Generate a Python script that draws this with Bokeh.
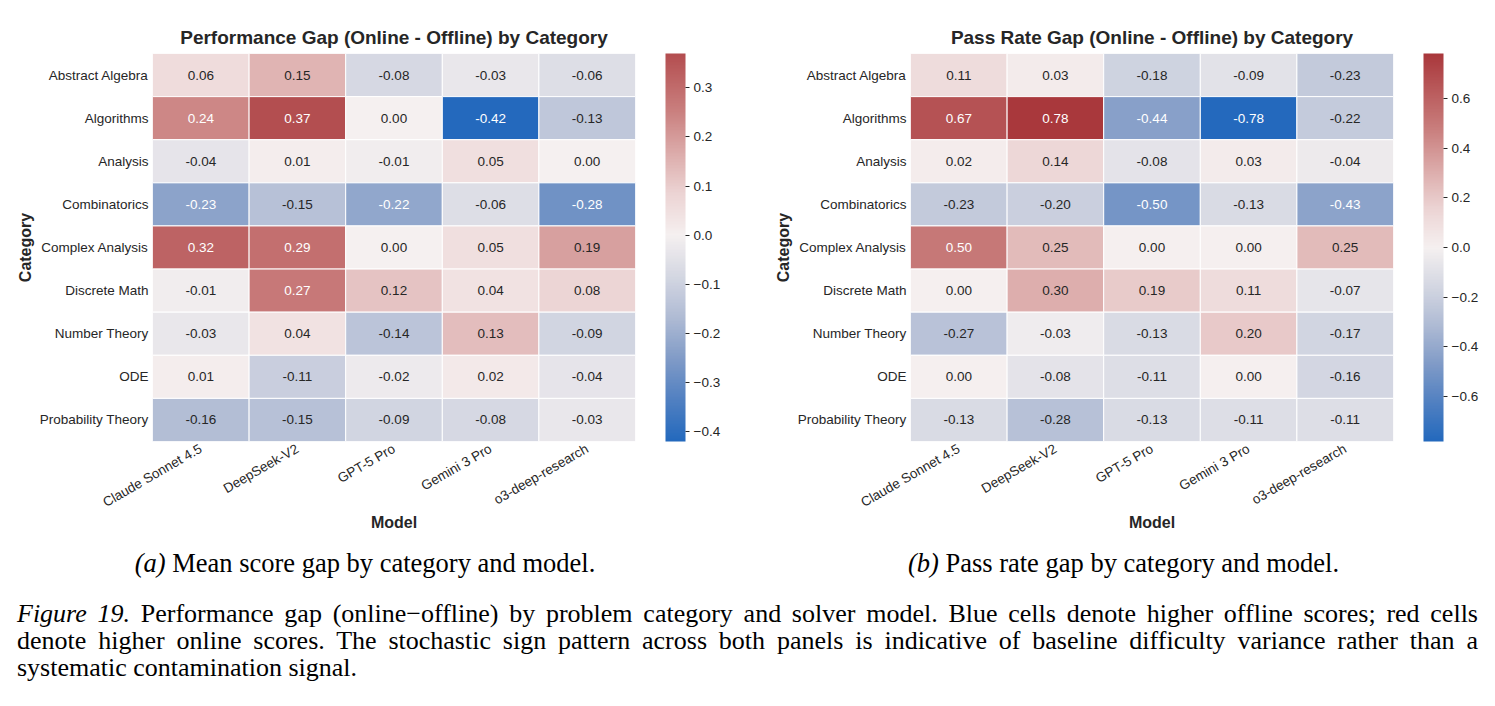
import math
from bokeh.plotting import figure
from bokeh.models import (ColumnDataSource, LinearColorMapper, ColorBar, FixedTicker,
                          CustomJSTickFormatter, Div)
from bokeh.layouts import column, row
from bokeh.embed import file_html
from bokeh.resources import INLINE
from bokeh.core.properties import value

# ---------------- data ----------------
categories = ["Abstract Algebra", "Algorithms", "Analysis", "Combinatorics", "Complex Analysis",
              "Discrete Math", "Number Theory", "ODE", "Probability Theory"]
models = ["Claude Sonnet 4.5", "DeepSeek-V2", "GPT-5 Pro", "Gemini 3 Pro", "o3-deep-research"]

# (a) mean score gap, one list per model, in category order
mean_claude = [0.06, 0.24, -0.04, -0.23, 0.32, -0.01, -0.03, 0.01, -0.16]
mean_deepseek = [0.15, 0.37, 0.01, -0.15, 0.29, 0.27, 0.04, -0.11, -0.15]
mean_gpt5 = [-0.08, 0.00, -0.01, -0.22, 0.00, 0.12, -0.14, -0.02, -0.09]
mean_gemini = [-0.03, -0.42, 0.05, -0.06, 0.05, 0.04, 0.13, 0.02, -0.08]
mean_o3 = [-0.06, -0.13, 0.00, -0.28, 0.19, 0.08, -0.09, -0.04, -0.03]

# (b) pass rate gap, one list per model, in category order
pass_claude = [0.11, 0.67, 0.02, -0.23, 0.50, 0.00, -0.27, 0.00, -0.13]
pass_deepseek = [0.03, 0.78, 0.14, -0.20, 0.25, 0.30, -0.03, -0.08, -0.28]
pass_gpt5 = [-0.18, -0.44, -0.08, -0.50, 0.00, 0.19, -0.13, -0.11, -0.13]
pass_gemini = [-0.09, -0.78, 0.03, -0.13, 0.00, 0.11, 0.20, 0.00, -0.11]
pass_o3 = [-0.23, -0.22, -0.04, -0.43, 0.25, -0.07, -0.17, -0.16, -0.11]

mean_ticks = [-0.4, -0.3, -0.2, -0.1, 0.0, 0.1, 0.2, 0.3]
pass_ticks = [-0.6, -0.4, -0.2, 0.0, 0.2, 0.4, 0.6]

title_a = "Performance Gap (Online - Offline) by Category"
title_b = "Pass Rate Gap (Online - Offline) by Category"

# ---------------- style ----------------
SANS = "Liberation Sans"
DARK = "#262626"

# approximation of seaborn's "vlag" diverging colormap
VLAG_STOPS = [
    (0.0, (35, 105, 189)), (0.1, (80, 128, 193)), (0.2, (128, 155, 199)),
    (0.3, (175, 187, 212)), (0.4, (212, 215, 226)), (0.5, (245, 240, 240)),
    (0.6, (236, 212, 212)), (0.7, (220, 171, 170)), (0.8, (202, 128, 127)),
    (0.9, (186, 92, 93)), (1.0, (169, 55, 59)),
]


def vlag(t):
    t = min(max(t, 0.0), 1.0)
    for (t0, c0), (t1, c1) in zip(VLAG_STOPS[:-1], VLAG_STOPS[1:]):
        if t <= t1:
            f = (t - t0) / (t1 - t0)
            return tuple(c0[k] + (c1[k] - c0[k]) * f for k in range(3))
    return VLAG_STOPS[-1][1]


def to_hex(c):
    return "#%02x%02x%02x" % tuple(int(round(v)) for v in c)


def luminance(c):
    lin = []
    for v in c:
        v = v / 255.0
        lin.append(v / 12.92 if v <= 0.03928 else ((v + 0.055) / 1.055) ** 2.4)
    return 0.2126 * lin[0] + 0.7152 * lin[1] + 0.0722 * lin[2]


def make_panel(title, columns, ticks, left_border, right_border):
    vals = [v for col in columns for v in col]
    vmin, vmax = min(vals), max(vals)
    m = max(abs(vmin), abs(vmax))

    def pos(v):
        return 0.5 + v / (2 * m)

    n = 256
    palette = [to_hex(vlag(pos(vmin + (i + 0.5) / n * (vmax - vmin)))) for i in range(n)]
    mapper = LinearColorMapper(palette=palette, low=vmin, high=vmax)

    xs, ys, vs, labels, tcs = [], [], [], [], []
    for model, col in zip(models, columns):
        for cat, v in zip(categories, col):
            xs.append(model)
            ys.append(cat)
            vs.append(v)
            labels.append("%.2f" % v)
            tcs.append(DARK if luminance(vlag(pos(v))) > 0.408 else "#ffffff")
    src = ColumnDataSource(dict(x=xs, y=ys, v=vs, label=labels, tc=tcs))

    p = figure(x_range=models, y_range=list(reversed(categories)),
               frame_width=483, frame_height=388,
               min_border_left=left_border, min_border_top=53, min_border_bottom=99,
               min_border_right=right_border,
               output_backend="svg", toolbar_location=None, title=title)
    p.rect(x="x", y="y", width=1, height=1, source=src,
           fill_color={"field": "v", "transform": mapper},
           line_color="#ffffff", line_width=1)
    p.text(x="x", y="y", text="label", source=src, text_color="tc",
           text_align="center", text_baseline="middle",
           text_font=value(SANS), text_font_size="13.5px")

    p.title.text_font = SANS
    p.title.text_font_size = "19px"
    p.title.text_font_style = "bold"
    p.title.text_color = DARK
    p.title.align = "center"
    p.title.standoff = 12

    p.grid.visible = False
    p.outline_line_color = None
    p.background_fill_color = "#ffffff"
    p.border_fill_color = "#ffffff"
    for ax in (p.xaxis[0], p.yaxis[0]):
        ax.axis_line_color = None
        ax.major_tick_line_color = None
        ax.minor_tick_line_color = None
        ax.major_tick_out = 0
        ax.major_tick_in = 0
        ax.major_label_text_font = SANS
        ax.major_label_text_font_size = "13.5px"
        ax.major_label_text_color = DARK
        ax.axis_label_text_font = SANS
        ax.axis_label_text_font_size = "16px"
        ax.axis_label_text_font_style = "bold"
        ax.axis_label_text_color = DARK
    p.xaxis.axis_label = "Model"
    p.yaxis.axis_label = "Category"
    p.xaxis.major_label_orientation = math.pi / 6
    p.xaxis.major_label_standoff = 6
    p.yaxis.major_label_standoff = 4
    p.xaxis.axis_label_standoff = -5
    p.yaxis.axis_label_standoff = 3

    fmt = CustomJSTickFormatter(
        code="return (tick < -1e-9 ? '\\u2212' : '') + Math.abs(tick).toFixed(1);")
    cb = ColorBar(color_mapper=mapper, ticker=FixedTicker(ticks=ticks), formatter=fmt,
                  width=20, height=388, padding=0, margin=0, location=(30, 0),
                  label_standoff=4, major_tick_in=0, major_tick_out=4,
                  major_tick_line_color=DARK, minor_tick_line_color=None,
                  bar_line_color=None, border_line_color=None,
                  background_fill_alpha=0,
                  major_label_text_font=SANS, major_label_text_font_size="13.5px",
                  major_label_text_color=DARK)
    p.add_layout(cb, "right")
    return p


p1 = make_panel(title_a, [mean_claude, mean_deepseek, mean_gpt5, mean_gemini, mean_o3],
                mean_ticks, 152, 105)
p2 = make_panel(title_b, [pass_claude, pass_deepseek, pass_gpt5, pass_gemini, pass_o3],
                pass_ticks, 170, 102)

SERIF = "'Liberation Serif', 'Times New Roman', serif"
sub_a = Div(text="<div style=\"font-family:%s;font-size:26.5px;color:#000;text-align:center;"
                 "width:720px;white-space:nowrap;\"><i>(a)</i> Mean score gap by category and model.</div>" % SERIF,
            width=740, height=45)
sub_b = Div(text="<div style=\"font-family:%s;font-size:26.5px;color:#000;text-align:center;"
                 "width:737px;white-space:nowrap;\"><i>(b)</i> Pass rate gap by category and model.</div>" % SERIF,
            width=755, height=45)

line_style = ("font-family:%s;font-size:26px;color:#000;line-height:27px;width:1461px;"
              "margin-left:12px;white-space:nowrap;" % SERIF)
cap_html = (
    "<div style=\"%s text-align:justify;text-align-last:justify;white-space:normal;\">"
    "<i>Figure 19.</i> Performance gap (online&minus;offline) by problem category and solver model. "
    "Blue cells denote higher offline scores; red cells</div>"
    "<div style=\"%s text-align:justify;text-align-last:justify;white-space:normal;\">"
    "denote higher online scores. The stochastic sign pattern across both panels is indicative "
    "of baseline difficulty variance rather than a</div>"
    "<div style=\"%s\">systematic contamination signal.</div>"
) % (line_style, line_style, line_style)
caption = Div(text=cap_html, width=1495, height=110)

layout = column(row(p1, p2), row(sub_a, sub_b), caption, spacing=0)

with open("out.html", "w", encoding="utf-8") as f:
    f.write(file_html(layout, INLINE))
